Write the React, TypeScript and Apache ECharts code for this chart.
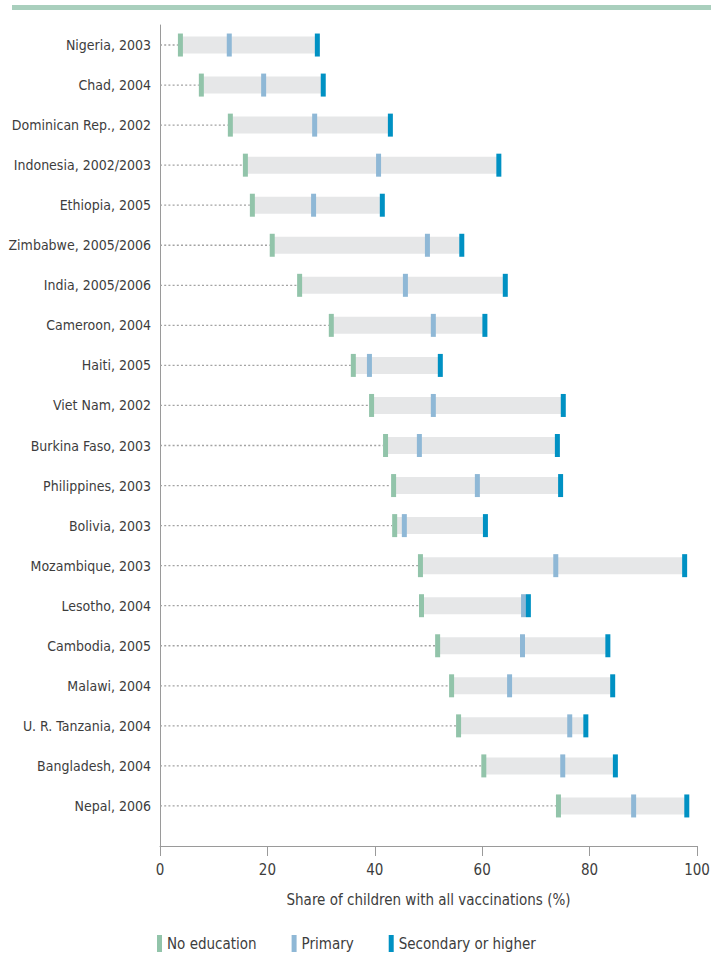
import React, { useEffect, useRef } from "react";
import * as echarts from "echarts";

const categories = [
  "Nigeria, 2003",
  "Chad, 2004",
  "Dominican Rep., 2002",
  "Indonesia, 2002/2003",
  "Ethiopia, 2005",
  "Zimbabwe, 2005/2006",
  "India, 2005/2006",
  "Cameroon, 2004",
  "Haiti, 2005",
  "Viet Nam, 2002",
  "Burkina Faso, 2003",
  "Philippines, 2003",
  "Bolivia, 2003",
  "Mozambique, 2003",
  "Lesotho, 2004",
  "Cambodia, 2005",
  "Malawi, 2004",
  "U. R. Tanzania, 2004",
  "Bangladesh, 2004",
  "Nepal, 2006",
];

const noEducation = [3.8, 7.7, 13.1, 15.9, 17.2, 20.9, 26.0, 31.9, 36.0, 39.4, 42.0, 43.5, 43.7, 48.5, 48.7, 51.7, 54.3, 55.6, 60.3, 74.2];
const primary = [12.9, 19.3, 28.8, 40.7, 28.6, 49.8, 45.7, 50.9, 39.0, 50.9, 48.3, 59.1, 45.5, 73.7, 67.7, 67.5, 65.1, 76.3, 75.0, 88.2];
const secondary = [29.3, 30.4, 42.9, 63.1, 41.4, 56.2, 64.3, 60.5, 52.2, 75.1, 74.0, 74.6, 60.6, 97.7, 68.6, 83.4, 84.3, 79.3, 84.8, 98.1];

const seriesNames = ["No education", "Primary", "Secondary or higher"];
const axisTitle = "Share of children with all vaccinations (%)";

const FONT = "'DejaVu Sans Condensed', 'Liberation Sans Narrow', 'Roboto Condensed', sans-serif";
const TEXT = "#3d3d3d";
const AXIS = "#9a9a9a";
const COLORS = ["#92c4aa", "#8fb8d6", "#0091c3"];

export default function App() {
  const ref = useRef<HTMLDivElement>(null);

  useEffect(() => {
    if (!ref.current) return;
    const chart = echarts.init(ref.current, undefined, { renderer: "svg" });

    const rangeData = categories.map((_, i) => [i, noEducation[i], secondary[i]]);
    const markerSeries = [noEducation, primary, secondary].map((arr, k) => ({
      name: seriesNames[k],
      type: "scatter",
      xAxisIndex: 0,
      yAxisIndex: 0,
      symbol: "rect",
      symbolSize: [5, 23],
      itemStyle: { color: COLORS[k], opacity: 1 },
      data: arr.map((v, i) => [v, i]),
      z: 3 + k,
      silent: true,
    }));

    chart.setOption({
      animation: false,
      textStyle: { fontFamily: FONT },
      graphic: [
        {
          type: "rect",
          shape: { x: 12, y: 5, width: 699, height: 5 },
          style: { fill: "#a9cfbd" },
        },
      ],
      legend: {
        left: 152,
        top: 930,
        icon: "rect",
        itemWidth: 5,
        itemHeight: 17,
        itemGap: 35,
        data: seriesNames,
        textStyle: { fontFamily: FONT, fontSize: 15, color: TEXT },
      },
      grid: [
        { left: 160, right: 19, top: 25, height: 821 },
        { left: 160, right: 19, top: 25, height: 801 },
      ],
      xAxis: [
        {
          type: "value",
          gridIndex: 0,
          min: 0,
          max: 100,
          interval: 20,
          axisLine: { show: true, onZero: false, lineStyle: { color: AXIS, width: 1 } },
          axisTick: { show: true, length: 10, lineStyle: { color: AXIS } },
          axisLabel: { color: TEXT, fontSize: 15, margin: 16, fontFamily: FONT },
          splitLine: { show: false },
          name: axisTitle,
          nameLocation: "middle",
          nameGap: 46,
          nameTextStyle: { color: TEXT, fontSize: 15, fontFamily: FONT },
        },
        { type: "value", gridIndex: 1, min: 0, max: 100, show: false },
      ],
      yAxis: [
        {
          type: "value",
          gridIndex: 0,
          min: -0.5,
          max: 20,
          inverse: true,
          axisLine: { show: true, onZero: false, lineStyle: { color: AXIS, width: 1 } },
          axisTick: { show: false },
          axisLabel: { show: false },
          splitLine: { show: false },
        },
        {
          type: "category",
          gridIndex: 1,
          inverse: true,
          data: categories,
          axisLine: { show: false },
          axisTick: { show: false },
          axisLabel: { color: TEXT, fontSize: 14, margin: 9, fontFamily: FONT },
        },
      ],
      series: [
        {
          type: "custom",
          xAxisIndex: 0,
          yAxisIndex: 0,
          silent: true,
          z: 2,
          encode: { x: [1, 2], y: 0 },
          data: rangeData,
          renderItem: (params: any, api: any) => {
            const y = api.value(0);
            const a = api.coord([0, y]);
            const s = api.coord([api.value(1), y]);
            const e = api.coord([api.value(2), y]);
            return {
              type: "group",
              children: [
                {
                  type: "line",
                  shape: { x1: a[0], y1: a[1], x2: s[0] - 2.5, y2: s[1] },
                  style: { stroke: "#a3a3a3", lineWidth: 1.3, lineDash: [2, 2.2] },
                },
                {
                  type: "rect",
                  shape: { x: s[0], y: s[1] - 8.5, width: e[0] - s[0], height: 17 },
                  style: { fill: "#e6e7e8" },
                },
              ],
            };
          },
        },
        ...markerSeries,
      ],
    });

    return () => chart.dispose();
  }, []);

  return (
    <div
      ref={ref}
      style={{ position: "fixed", left: 0, top: 0, width: 716, height: 954, background: "#fff" }}
    />
  );
}
